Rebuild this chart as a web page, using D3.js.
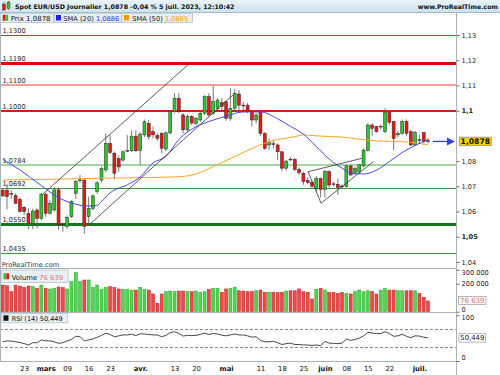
<!DOCTYPE html>
<html><head><meta charset="utf-8">
<script src="https://cdn.jsdelivr.net/npm/d3@7"></script>
<style>
html,body{margin:0;padding:0;background:#fff;}
svg{display:block;font-family:"DejaVu Sans",Verdana,sans-serif;}
</style></head><body>
<svg id="c" width="500" height="375"></svg>
<script>
// ---------- DATA ----------
const openP = [1.0685,1.0685,1.0672,1.0663,1.0649,1.0617,1.0593,1.0553,1.0606,1.0573,
1.0669,1.0593,1.0606,1.0686,1.0550,1.0540,1.0580,1.0672,1.0722,1.0725,
1.0580,1.0613,1.0679,1.0725,1.0765,1.0870,1.0831,1.0810,1.0804,1.0840,
1.0841,1.0899,1.0843,1.0904,1.0950,1.0917,1.0901,1.0910,1.0848,1.0912,
1.0996,1.1049,1.0983,1.0924,1.0977,1.0950,1.0963,1.0990,1.1056,1.0990,
1.1009,1.1032,1.1035,1.0970,1.1009,1.1066,1.1022,1.1022,1.0996,1.0963,
1.0996,1.0910,1.0864,1.0869,1.0864,1.0837,1.0772,1.0808,1.0807,1.0767,
1.0752,1.0724,1.0716,1.0690,1.0731,1.0688,1.0758,1.0710,1.0708,1.0701,
1.0700,1.0781,1.0752,1.0757,1.0781,1.0842,1.0943,1.0937,1.0936,1.0917,
1.0994,1.0957,1.0904,1.0910,1.0957,1.0917,1.0864,1.0885,1.0913,1.0882];
const closeP = [1.0662,1.0659,1.0670,1.0633,1.0600,1.0600,1.0553,1.0602,1.0573,1.0669,
1.0593,1.0633,1.0686,1.0547,1.0548,1.0577,1.0639,1.0719,1.0726,1.0541,
1.0613,1.0662,1.0714,1.0771,1.0870,1.0834,1.0752,1.0777,1.0837,1.0842,
1.0899,1.0841,1.0907,1.0956,1.0897,1.0904,1.0890,1.0851,1.0912,1.0996,
1.1049,1.0996,1.0924,1.0977,1.0951,1.0969,1.0990,1.1056,1.0983,1.1036,
1.1042,1.1016,1.0970,1.1009,1.1069,1.1022,1.1019,1.0996,1.0963,1.0983,
1.0910,1.0851,1.0873,1.0867,1.0837,1.0772,1.0800,1.0806,1.0767,1.0754,
1.0719,1.0715,1.0701,1.0731,1.0688,1.0758,1.0705,1.0709,1.0695,1.0700,
1.0781,1.0745,1.0772,1.0785,1.0844,1.0943,1.0930,1.0917,1.0938,1.0994,
1.0953,1.0890,1.0910,1.0957,1.0910,1.0864,1.0913,1.0884,1.0877,1.0878];
const highP = [1.0692,1.0709,1.0685,1.0672,1.0656,1.0622,1.0613,1.0612,1.0613,1.0675,
1.0675,1.0645,1.0695,1.0695,1.0556,1.0585,1.0645,1.0725,1.0745,1.0731,
1.0659,1.0668,1.0720,1.0778,1.0910,1.0903,1.0838,1.0822,1.0842,1.0903,
1.0922,1.0922,1.0915,1.0965,1.0963,1.0937,1.0910,1.0915,1.0918,1.1000,
1.1069,1.1069,1.0990,1.0985,1.0983,1.0976,1.0996,1.1062,1.1069,1.1098,
1.1050,1.1049,1.1040,1.1089,1.1085,1.1082,1.1035,1.1030,1.1000,1.0990,
1.1000,1.0915,1.0890,1.0885,1.0870,1.0840,1.0805,1.0815,1.0812,1.0775,
1.0758,1.0735,1.0722,1.0740,1.0735,1.0765,1.0765,1.0718,1.0730,1.0708,
1.0786,1.0786,1.0778,1.0790,1.0850,1.0950,1.0950,1.0940,1.0945,1.1010,
1.1000,1.0960,1.0920,1.0965,1.0965,1.0925,1.0920,1.0905,1.0915,1.0890];
const lowP = [1.0659,1.0609,1.0650,1.0630,1.0596,1.0586,1.0531,1.0530,1.0533,1.0565,
1.0580,1.0588,1.0600,1.0527,1.0520,1.0532,1.0575,1.0650,1.0715,1.0512,
1.0547,1.0605,1.0670,1.0715,1.0755,1.0828,1.0728,1.0758,1.0798,1.0836,
1.0836,1.0836,1.0784,1.0895,1.0885,1.0890,1.0880,1.0831,1.0840,1.0905,
1.0990,1.0990,1.0910,1.0915,1.0943,1.0943,1.0956,1.0983,1.0976,1.0983,
1.1000,1.0996,1.0960,1.0960,1.1000,1.0990,1.0996,1.0990,1.0937,1.0950,
1.0900,1.0845,1.0845,1.0850,1.0804,1.0760,1.0762,1.0800,1.0760,1.0745,
1.0706,1.0708,1.0690,1.0680,1.0656,1.0655,1.0690,1.0700,1.0666,1.0690,
1.0695,1.0740,1.0745,1.0750,1.0775,1.0838,1.0900,1.0912,1.0925,1.0910,
1.0945,1.0844,1.0895,1.0905,1.0900,1.0860,1.0860,1.0870,1.0870,1.0870];
const volume = [191000,186000,143000,191000,184000,174000,184000,179000,167000,191000,
167000,163000,167000,177000,172000,163000,215000,279000,215000,227000,
227000,174000,191000,160000,174000,179000,174000,163000,160000,160000,
155000,155000,174000,160000,155000,127000,60000,127000,143000,148000,
143000,148000,148000,143000,143000,148000,139000,143000,160000,167000,
167000,139000,163000,167000,174000,150000,148000,143000,143000,150000,
155000,139000,139000,139000,139000,139000,148000,150000,150000,163000,
143000,139000,91000,160000,167000,155000,139000,139000,131000,136000,
131000,127000,143000,155000,143000,150000,143000,127000,155000,167000,
155000,155000,150000,150000,150000,150000,150000,131000,103000,76639];
const rsi = [42,44,43.5,42,40.5,38,35,40,40,46,
44,44,42,38.5,40,44,47,54,53,44,
46,48,52,56,60.5,58,53,55,57,57,
58.5,55.5,59.5,59,58,57,57,53,56,62,
64,60,54.5,56,55.5,56,58,61,58,60,
59,56.5,55,57,59,57,57,55,52,53,
45,42,42,43,40,36,38,39,36,36,
35,35,34,35,33.5,43,39,38.6,38,39,
48,45,47,50,55,62.5,61,60,60,64,
60,54,55,58.5,54,51,55,54.5,52,50.449];
// SMA values at candle indices
const sma20Idx = [0,4,9,13,16,20,22,23,25,29,32,35,38,41,45,48,52,56,60,64,67,70,73,76,79,81,84,87,90,93,96,99];
const sma20Val = [1.0807,1.0765,1.0703,1.0655,1.0634,1.0622,1.0625,1.0640,1.0674,1.0706,1.0737,1.0793,1.0818,1.0886,1.0936,1.0957,1.0978,1.0995,1.0995,1.0968,1.0938,1.0907,1.0858,1.0808,1.0772,1.0753,1.0749,1.0764,1.0798,1.0834,1.0862,1.0886];
const sma50Idx = [0,11,23,34,41,45,49,54,59,62,66,68,70,73,79,83,87,93,99];
const sma50Val = [1.0725,1.0728,1.0732,1.0735,1.0738,1.0749,1.0778,1.0818,1.0857,1.0877,1.0891,1.0897,1.0904,1.0900,1.0895,1.0887,1.0880,1.0877,1.0865];
const levelPrices = [1.1300,1.1190,1.1100,1.1000,1.0784,1.0692,1.0550,1.0435];
const levelLabels = ["1,1300","1,1190","1,1100","1,1000","1,0784","1,0692","1,0550","1,0435"];
const trendFrom = [[9.4,1.0670],[20.1,1.0547],[71.1,1.0758],[71.1,1.0758],[74.1,1.0633]];
const trendTo   = [[43.6,1.1189],[53.6,1.1062],[83.6,1.0811],[74.1,1.0633],[86.3,1.0798]];
const tickIdx = [5,10,15,20,25,32,40,45,52,60,65,70,75,80,85,90,97];
const tickLabels = ["23","mars","09","16","23","avr.","13","20","mai","11","18","25","juin","08","15","22","juil."];
// 1,09 and 100 000 are hidden behind the value boxes in the reference
const priceTicks = [1.04,1.05,1.06,1.07,1.08,1.10,1.11,1.12,1.13];
const volTicks = [0,200000,300000];
const rsiTicks = [0,100];
const lastPrice = 1.0878, sma20Last = 1.0886, sma50Last = 1.0865, lastVol = 76639, lastRsi = 50.449;
const title = "Spot EUR/USD Journalier 1,0878 -0,04 % 5 juil. 2023, 12:10:42";

// ---------- STYLES ----------
const levelStyle = [{c:"#e63030",w:1},{c:"#e60000",w:3},{c:"#f4a0a0",w:2},{c:"#e01818",w:2},
  {c:"#a6d6a6",w:2},{c:"#399b39",w:1},{c:"#17781a",w:3},{c:"#399b39",w:1}];
const UP="#2fc42f", DN="#e81818";

const svg = d3.select("#c");
const AX = 456.5;
const x = d3.scaleLinear().domain([0,99]).range([2.7,428]);
const y = d3.scaleLinear().domain([1.04,1.13]).range([262,35]);
const yv = d3.scaleLinear().domain([0,300000]).range([311.7,269.8]);
const yr = d3.scaleLinear().domain([0,100]).range([361,315.25]);
const frac = d => d3.format(".2f")(d).replace(/0$/,"").replace(".",",");
const frac4 = v => d3.format(".4f")(v).replace(".",",");
const sp = d3.formatLocale({decimal:",",thousands:" ",grouping:[3],currency:["",""]}).format(",d");
const crisp = (v,w) => (w%2===1) ? Math.round(v)+0.5 : Math.round(v);

function fitW(sel,w){const n=sel.node();const c=n.getComputedTextLength();if(c>0)sel.attr("font-size",(+sel.attr("font-size"))*w/c);}

// header
const defs = svg.append("defs");
const g1 = defs.append("linearGradient").attr("id","hg").attr("x1",0).attr("y1",0).attr("x2",0).attr("y2",1);
g1.append("stop").attr("offset",0).attr("stop-color","#eaf4f9");
g1.append("stop").attr("offset",1).attr("stop-color","#cbe1ed");
svg.append("rect").attr("x",0).attr("y",0).attr("width",500).attr("height",12.5).attr("fill","url(#hg)");
svg.append("line").attr("x1",0).attr("x2",500).attr("y1",12.5).attr("y2",12.5).attr("stroke","#a7bccb");
// icon
svg.append("line").attr("x1",4).attr("x2",4).attr("y1",1.5).attr("y2",11).attr("stroke","#444").attr("stroke-width",0.6);
svg.append("rect").attr("x",2.5).attr("y",4).attr("width",3).attr("height",6).attr("fill",DN).attr("stroke","#333").attr("stroke-width",0.4);
svg.append("line").attr("x1",8.5).attr("x2",8.5).attr("y1",1).attr("y2",10).attr("stroke","#444").attr("stroke-width",0.6);
svg.append("rect").attr("x",7).attr("y",2).attr("width",3).attr("height",6.5).attr("fill",UP).attr("stroke","#333").attr("stroke-width",0.4);
const tt = svg.append("text").attr("x",15).attr("y",9.3).attr("font-size",7).attr("font-weight","bold").attr("fill","#111").text(title);
fitW(tt,220);
const ww = svg.append("text").attr("x",417.7).attr("y",9.3).attr("font-size",7).attr("font-weight","bold").attr("fill","#111").text("www.ProRealTime.com");
fitW(ww,80.5);

// legend boxes
const legBoxes = [{x:0.5,w:53},{x:54.3,w:67},{x:122,w:70.5}];
legBoxes.forEach(b=>svg.append("rect").attr("x",b.x).attr("y",13.2).attr("width",b.w).attr("height",9.3).attr("fill","#e6edf2").attr("stroke","#b4c2cc").attr("stroke-width",0.8));
svg.append("rect").attr("x",2.7).attr("y",14.8).attr("width",2.7).attr("height",6).attr("fill",DN);
svg.append("rect").attr("x",5.4).attr("y",14.8).attr("width",2.7).attr("height",6).attr("fill",UP);
svg.append("rect").attr("x",56).attr("y",15).attr("width",5).attr("height",5.5).attr("fill","#1f1fff");
svg.append("rect").attr("x",124).attr("y",15).attr("width",5).attr("height",5.5).attr("fill","#ff9900");
const l1 = svg.append("text").attr("x",10.7).attr("y",20.5).attr("font-size",7).attr("fill","#111");
l1.append("tspan").text("Prix "); l1.append("tspan").text(frac4(lastPrice));
fitW(l1,40);
const l2 = svg.append("text").attr("x",63.3).attr("y",20.5).attr("font-size",7).attr("fill","#111");
l2.append("tspan").text("SMA (20) "); l2.append("tspan").attr("fill","#2b2bff").text(frac4(sma20Last));
fitW(l2,56);
const l3 = svg.append("text").attr("x",132.3).attr("y",20.5).attr("font-size",7).attr("fill","#111");
l3.append("tspan").text("SMA (50) "); l3.append("tspan").attr("fill","#ff9400").text(frac4(sma50Last));
fitW(l3,56);

// levels
const lev = svg.append("g");
levelPrices.forEach((p,i)=>{
  const yy = crisp(y(p),levelStyle[i].w);
  lev.append("line").attr("x1",0).attr("x2",AX).attr("y1",yy).attr("y2",yy)
    .attr("stroke",levelStyle[i].c).attr("stroke-width",levelStyle[i].w).attr("shape-rendering","crispEdges");
  lev.append("text").attr("x",2.5).attr("y",y(p)-2).attr("font-size",6.6).attr("fill","#222").text(levelLabels[i]);
});

// candles
const idx = d3.range(openP.length);
const cg = svg.append("g");
cg.selectAll("line").data(idx).join("line")
  .attr("x1",i=>x(i)).attr("x2",i=>x(i)).attr("y1",i=>y(highP[i])).attr("y2",i=>y(lowP[i]))
  .attr("stroke","#555").attr("stroke-width",0.8);
cg.selectAll("rect").data(idx).join("rect")
  .attr("x",i=>x(i)-1.5).attr("width",3)
  .attr("y",i=>y(Math.max(openP[i],closeP[i])))
  .attr("height",i=>Math.max(0.8,Math.abs(y(openP[i])-y(closeP[i]))))
  .attr("fill",i=>closeP[i]>=openP[i]?UP:DN)
  .attr("stroke","#2a2a2a").attr("stroke-width",0.5);

// SMAs
const line = d3.line().curve(d3.curveMonotoneX);
svg.append("path").attr("d",line(sma50Idx.map((k,j)=>[x(k),y(sma50Val[j])]))).attr("fill","none").attr("stroke","#ffa328").attr("stroke-width",1);
svg.append("path").attr("d",line(sma20Idx.map((k,j)=>[x(k),y(sma20Val[j])]))).attr("fill","none").attr("stroke","#4747f0").attr("stroke-width",1);

// trendlines
trendFrom.forEach((f,j)=>{
  svg.append("line").attr("x1",x(f[0])).attr("y1",y(f[1])).attr("x2",x(trendTo[j][0])).attr("y2",y(trendTo[j][1]))
    .attr("stroke","#333").attr("stroke-width",0.8);
});

// arrow
svg.append("line").attr("x1",433).attr("x2",449).attr("y1",y(lastPrice)).attr("y2",y(lastPrice)).attr("stroke","#3344dd").attr("stroke-width",1.3);
svg.append("path").attr("d",`M447,${y(lastPrice)-4}L455,${y(lastPrice)}L447,${y(lastPrice)+4}Z`).attr("fill","#3344dd");

// watermark
const wm = svg.append("text").attr("x",1.7).attr("y",266.5).attr("font-size",7).attr("fill","#333").text("ProRealTime.com");
fitW(wm,57.6);

// volume
const vg = svg.append("g");
vg.selectAll("rect").data(idx).join("rect")
  .attr("x",i=>x(i)-1.5).attr("width",3)
  .attr("y",i=>yv(volume[i])).attr("height",i=>yv(0)-yv(volume[i]))
  .attr("fill",i=>closeP[i]>=openP[i]?"#52d452":"#ea4a4a")
  .attr("stroke",i=>closeP[i]>=openP[i]?"#22a822":"#c41c1c").attr("stroke-width",0.5);
svg.append("rect").attr("x",1.7).attr("y",270).attr("width",66.5).attr("height",12.5).attr("fill","#e9f0f4").attr("stroke","#b4c2cc").attr("stroke-width",0.8);
svg.append("rect").attr("x",3.5).attr("y",273.3).attr("width",2.8).attr("height",6).attr("fill",UP);
svg.append("rect").attr("x",6.3).attr("y",273.3).attr("width",2.8).attr("height",6).attr("fill",DN);
const vl = svg.append("text").attr("x",11.7).attr("y",279.5).attr("font-size",7).attr("fill","#111");
vl.append("tspan").text("Volume "); vl.append("tspan").attr("fill","#e86a6a").text(sp(lastVol));
fitW(vl,51.6);

// RSI
svg.append("rect").attr("x",1.7).attr("y",313.3).attr("width",66).attr("height",9.5).attr("fill","#e9f0f4").attr("stroke","#b4c2cc").attr("stroke-width",0.8);
svg.append("rect").attr("x",3.5).attr("y",315.3).attr("width",5).attr("height",5.5).attr("fill","#111");
const rl = svg.append("text").attr("x",11.7).attr("y",321).attr("font-size",7).attr("fill","#111").text("RSI (14) " + d3.format(".3f")(lastRsi).replace(".",","));
fitW(rl,51);
[70,30].forEach(v=>svg.append("line").attr("x1",0).attr("x2",AX).attr("y1",crisp(yr(v),1)).attr("y2",crisp(yr(v),1)).attr("stroke","#8a8a8a").attr("stroke-width",1).attr("stroke-dasharray","3,2").attr("shape-rendering","crispEdges"));
svg.append("path").attr("d",d3.line()(idx.map(i=>[x(i),yr(rsi[i])]))).attr("fill","none").attr("stroke","#333").attr("stroke-width",0.9);

// frame lines
const fr = "#a9b4bc";
[268.5,312.5,361.5].forEach(v=>svg.append("line").attr("x1",0).attr("x2",AX).attr("y1",v).attr("y2",v).attr("stroke",fr).attr("stroke-width",1).attr("shape-rendering","crispEdges"));
svg.append("line").attr("x1",0.5).attr("x2",0.5).attr("y1",23).attr("y2",362).attr("stroke",fr).attr("shape-rendering","crispEdges");
svg.append("line").attr("x1",AX).attr("x2",AX).attr("y1",13).attr("y2",375).attr("stroke",fr).attr("shape-rendering","crispEdges");

// right price axis
const pa = svg.append("g").attr("transform",`translate(${AX},0)`)
  .call(d3.axisRight(y).tickValues(priceTicks).tickSize(3).tickPadding(2).tickFormat(frac));
pa.select(".domain").remove();
pa.selectAll("line").attr("stroke","#666");
pa.selectAll("text").attr("font-size",6.6).attr("font-family","DejaVu Sans").attr("fill","#222")
  .attr("font-weight",d=>(Math.abs(d-1.10)<1e-6||Math.abs(d-1.05)<1e-6)?"bold":"normal");
// last price box
svg.append("rect").attr("x",459.3).attr("y",y(lastPrice)-4.3).attr("width",32).attr("height",8.6).attr("fill","#f7cf0a").attr("stroke","#8a8a8a").attr("stroke-width",0.7);
const lp = svg.append("text").attr("x",460.6).attr("y",y(lastPrice)+2.6).attr("font-size",7).attr("font-weight","bold").attr("fill","#111").text(frac4(lastPrice));
fitW(lp,29.5);

// volume axis
const va = svg.append("g").attr("transform",`translate(${AX},0)`)
  .call(d3.axisRight(yv).tickValues(volTicks).tickSize(3).tickPadding(2).tickFormat(sp));
va.select(".domain").remove();
va.selectAll("line").attr("stroke","#666");
va.selectAll("text").attr("font-size",6.6).attr("font-family","DejaVu Sans").attr("fill","#222")
  .attr("dy",d=>d===300000?"0.75em":(d===0?"-0.05em":"0.32em"));
svg.append("rect").attr("x",458.5).attr("y",yv(lastVol)-4.6).attr("width",27.5).attr("height",8.2).attr("fill","#fff").attr("stroke","#9a9a9a").attr("stroke-width",0.7);
const lvt = svg.append("text").attr("x",460).attr("y",yv(lastVol)+2.2).attr("font-size",7).attr("fill","#e86a6a").text(sp(lastVol));
fitW(lvt,24.5);

// rsi axis
const ra = svg.append("g").attr("transform",`translate(${AX},0)`)
  .call(d3.axisRight(yr).tickValues(rsiTicks).tickSize(3).tickPadding(2).tickFormat(d3.format("d")));
ra.select(".domain").remove();
ra.selectAll("line").attr("stroke","#666");
ra.selectAll("text").attr("font-size",6.6).attr("font-family","DejaVu Sans").attr("fill","#222")
  .attr("dy",d=>d===100?"0.6em":"-0.2em");
svg.append("rect").attr("x",459).attr("y",yr(lastRsi)-4.2).attr("width",26.7).attr("height",8.4).attr("fill","#fff").attr("stroke","#9a9a9a").attr("stroke-width",0.7);
const lrt = svg.append("text").attr("x",460.3).attr("y",yr(lastRsi)+2.5).attr("font-size",7).attr("fill","#111").text(d3.format(".3f")(lastRsi).replace(".",","));
fitW(lrt,24);

// x axis
const xa = svg.append("g").attr("transform","translate(0,362)")
  .call(d3.axisBottom(x).tickValues(tickIdx).tickSize(0).tickPadding(4).tickFormat((d,i)=>tickLabels[i]));
xa.select(".domain").remove();
xa.selectAll("text").attr("font-size",6.8).attr("font-family","DejaVu Sans").attr("fill","#111")
  .attr("font-weight",(d,i)=>/[a-z]/.test(tickLabels[i])?"bold":"normal");
</script>
</body></html>
